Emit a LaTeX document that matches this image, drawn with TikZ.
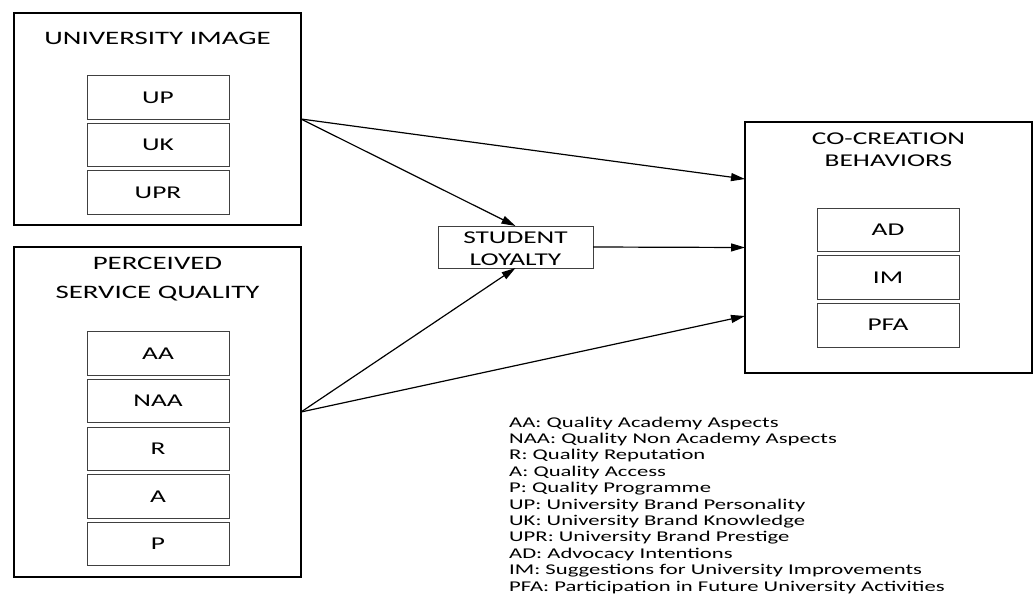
\documentclass[tikz,border=0pt]{standalone}
\usepackage{fontspec}
\setmainfont{Carlito}[FakeStretch=1.52]
\usetikzlibrary{arrows.meta,positioning}

\begin{document}
\begin{tikzpicture}[x=1pt, y=-1pt,
  group/.style={draw=black, line width=1.8pt, minimum width=287pt,
    inner sep=0pt, outer sep=0pt},
  title/.style={anchor=base, align=center, font=\fontsize{19}{22}\selectfont},
  item/.style={draw=black!75, line width=0.9pt, minimum width=142pt,
    minimum height=43.5pt, inner sep=0pt, font=\fontsize{18}{20}\selectfont},
  link/.style={-{Triangle[length=14pt,width=8pt]}, line width=1.2pt},
  legend/.style={anchor=base west, align=left, inner sep=0pt,
    font=\fontsize{14.9}{16.4}\selectfont}
]
  \useasboundingbox (0,0) rectangle (1035,596);

  % University image
  \node[group, minimum height=212pt] (ui) at (157.5,119) {};
  \node[title] (uititle) at (157.5,44.5) {UNIVERSITY IMAGE};
  \node[item] (up) at (158,97.5) {UP};
  \node[item, below=3.2pt of up] (uk) {UK};
  \node[item, below=3.2pt of uk] (upr) {UPR};

  % Perceived service quality
  \node[group, minimum height=330pt] (psq) at (157.5,412) {};
  \node[title, font=\fontsize{19}{29}\selectfont] (psqtitle) at (157.5,298)
    {PERCEIVED\\SERVICE QUALITY};
  \node[item] (aa) at (158,353.5) {AA};
  \node[item, below=3.2pt of aa] (naa) {NAA};
  \node[item, below=3.2pt of naa] (r) {R};
  \node[item, below=3.2pt of r] (a) {A};
  \node[item, below=3.2pt of a] (p) {P};

  % Student loyalty
  \node[draw=black!75, line width=0.9pt, minimum width=155pt, minimum height=42pt,
    inner sep=0pt, outer sep=0pt] (sl) at (515.5,247) {};
  \node[title, font=\fontsize{18}{22}\selectfont] (sltitle) at (515.5,265)
    {STUDENT\\LOYALTY};

  % Co-creation behaviors
  \node[group, minimum height=251pt] (cb) at (888.5,247.5) {};
  \node[title, font=\fontsize{18}{22}\selectfont] (cbtitle) at (888.5,167)
    {CO-CREATION\\BEHAVIORS};
  \node[item] (ad) at (888,230) {AD};
  \node[item, below=3.2pt of ad] (im) {IM};
  \node[item, below=3.2pt of im] (pfa) {PFA};

  % Paths
  \draw[link] (ui.east) -- ([yshift=68.5pt]cb.west);
  \draw[link] (ui.east) -- (sl.north);
  \draw[link] (psq.east) -- (sl.south);
  \draw[link] (psq.east) -- ([yshift=-68.5pt]cb.west);
  \draw[link] (sl.east) -- (cb.west);

  % Abbreviations
  \node[legend] (key) at (509,591) {AA: Quality Academy Aspects\\
    NAA: Quality Non Academy Aspects\\
    R: Quality Reputation\\
    A: Quality Access\\
    P: Quality Programme\\
    UP: University Brand Personality\\
    UK: University Brand Knowledge\\
    UPR: University Brand Prestige\\
    AD: Advocacy Intentions\\
    IM: Suggestions for University Improvements\\
    PFA: Participation in Future University Activities};
\end{tikzpicture}
\end{document}
